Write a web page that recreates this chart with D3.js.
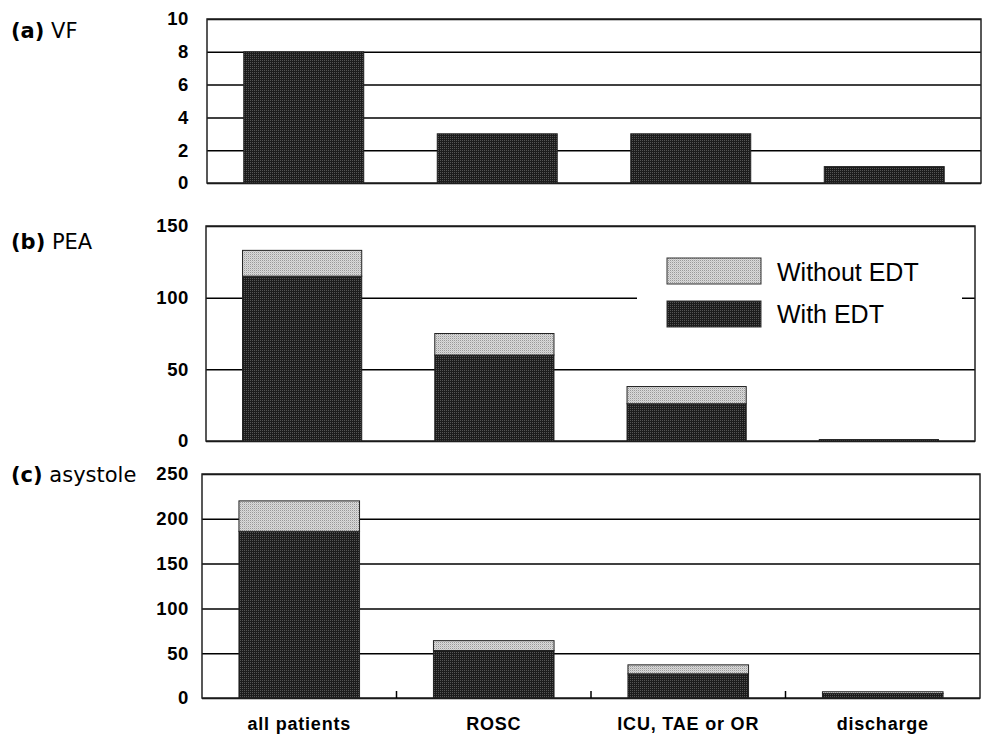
<!DOCTYPE html>
<html>
<head>
<meta charset="utf-8">
<script src="https://cdn.jsdelivr.net/npm/d3@7"></script>
<style>
  body { margin: 0; background: #fff; }
  svg { display: block; }
</style>
</head>
<body>
<div id="chart"></div>
<script>
// data
var categories = ["all patients", "ROSC", "ICU, TAE or OR", "discharge"];
var seriesNames = ["With EDT", "Without EDT"];
var panelTags = ["(a)", "(b)", "(c)"];
var panelTitles = ["VF", "PEA", "asystole"];

var vfWith = [8, 3, 3, 1],
    vfWithout = [0, 0, 0, 0];
var peaWith = [115, 60, 26, 1],
    peaWithout = [18, 15, 12, 0];
var asysWith = [186, 53, 27, 5],
    asysWithout = [34, 11, 10, 2];

var vfTicks = [0, 2, 4, 6, 8, 10],
    peaTicks = [0, 50, 100, 150],
    asysTicks = [0, 50, 100, 150, 200, 250];

// layout (pixels)
var layout = [
  {left: 207, right: 981, top: 19, bottom: 183, labelY: 38},
  {left: 206, right: 975, top: 226, bottom: 441, labelY: 249},
  {left: 202, right: 980, top: 474, bottom: 698, labelY: 482}
];
var panelData = [
  {with: vfWith, without: vfWithout, ticks: vfTicks},
  {with: peaWith, without: peaWithout, ticks: peaTicks},
  {with: asysWith, without: asysWithout, ticks: asysTicks}
];

var width = 982, height = 734;

var svg = d3.select("#chart").append("svg")
    .attr("width", width)
    .attr("height", height);

// dithered fills like the original
var defs = svg.append("defs");
var dark = defs.append("pattern")
    .attr("id", "darkFill")
    .attr("patternUnits", "userSpaceOnUse")
    .attr("width", 2).attr("height", 2);
dark.append("rect").attr("width", 2).attr("height", 2).attr("fill", "#1c1c1c");
dark.append("rect").attr("width", 1).attr("height", 1).attr("fill", "#555");

var light = defs.append("pattern")
    .attr("id", "lightFill")
    .attr("patternUnits", "userSpaceOnUse")
    .attr("width", 2).attr("height", 2);
light.append("rect").attr("width", 2).attr("height", 2).attr("fill", "#dadada");
light.append("rect").attr("width", 1).attr("height", 1).attr("fill", "#999");
light.append("rect").attr("x", 1).attr("y", 1).attr("width", 1).attr("height", 1).attr("fill", "#c4c4c4");

var fills = {"With EDT": "url(#darkFill)", "Without EDT": "url(#lightFill)"};

layout.forEach(function(L, i) {
  var d = panelData[i];
  var rows = categories.map(function(c, j) {
    return {cat: c, "With EDT": d.with[j], "Without EDT": d.without[j]};
  });

  var x = d3.scaleBand()
      .domain(categories)
      .range([L.left, L.right])
      .paddingInner(0.38)
      .paddingOuter(0.19);

  var y = d3.scaleLinear()
      .domain([0, d3.max(d.ticks)])
      .range([L.bottom, L.top]);

  var g = svg.append("g");

  // gridlines
  g.append("g")
      .attr("transform", "translate(" + L.left + ",0)")
      .call(d3.axisLeft(y).tickValues(d.ticks).tickSize(-(L.right - L.left)).tickFormat(""))
      .call(function(a) {
        a.select(".domain").remove();
        a.selectAll(".tick line").attr("stroke", "#000").attr("stroke-width", 1.5);
      });

  // frame
  g.append("rect")
      .attr("x", L.left).attr("y", L.top)
      .attr("width", L.right - L.left).attr("height", L.bottom - L.top)
      .attr("fill", "none")
      .attr("stroke", "#222")
      .attr("stroke-width", 1.5);

  // y labels
  g.append("g")
      .attr("transform", "translate(" + L.left + ",0)")
      .call(d3.axisLeft(y).tickValues(d.ticks).tickSize(0).tickPadding(L.left - 189))
      .call(function(a) {
        a.select(".domain").remove();
        a.selectAll("text")
          .attr("fill", "#000")
          .style("font-family", "'Liberation Sans', Arial, sans-serif")
          .style("font-weight", "bold")
          .style("font-size", "18.5px")
          .style("letter-spacing", "0.6px");
      });

  // legend box in panel (b)
  if (i === 1) {
    var lg = g.append("g");
    lg.append("rect")
        .attr("x", 637).attr("y", 246)
        .attr("width", 325).attr("height", 98)
        .attr("fill", "#fff");
    var order = ["Without EDT", "With EDT"];
    order.forEach(function(name, k) {
      lg.append("rect")
          .attr("x", 667).attr("y", 258 + k * 43)
          .attr("width", 94).attr("height", 26)
          .attr("fill", fills[name])
          .attr("stroke", "#333").attr("stroke-width", 1);
      lg.append("text")
          .attr("x", 777).attr("y", 281 + k * 42)
          .style("font-family", "'Liberation Sans', Arial, sans-serif")
          .style("font-size", "25px")
          .text(name);
    });
  }

  // stacked bars
  var stacked = d3.stack().keys(seriesNames)(rows);
  g.selectAll("g.series")
    .data(stacked)
    .enter().append("g")
      .attr("class", "series")
      .attr("fill", function(s) { return fills[s.key]; })
    .selectAll("rect")
    .data(function(s) { return s.filter(function(v) { return v[1] - v[0] > 0; }); })
    .enter().append("rect")
      .attr("x", function(v) { return x(v.data.cat); })
      .attr("width", x.bandwidth())
      .attr("y", function(v) { return y(v[1]); })
      .attr("height", function(v) { return y(v[0]) - y(v[1]); })
      .attr("stroke", "#222")
      .attr("stroke-width", 1);

  // panel label
  var t = svg.append("text")
      .attr("x", 11).attr("y", L.labelY)
      .style("font-family", "'DejaVu Sans', sans-serif")
      .style("font-size", "21px");
  t.append("tspan").style("font-weight", "bold").text(panelTags[i]);
  t.append("tspan").text(" " + panelTitles[i]);

  // category axis only under the last panel
  if (i === layout.length - 1) {
    var step = x.step();
    var bounds = categories.slice(0, -1).map(function(c) {
      return x(c) + x.bandwidth() + (step - x.bandwidth()) / 2;
    });
    g.selectAll("line.sep")
      .data(bounds)
      .enter().append("line")
        .attr("class", "sep")
        .attr("x1", function(b) { return b; })
        .attr("x2", function(b) { return b; })
        .attr("y1", L.bottom)
        .attr("y2", L.bottom - 7)
        .attr("stroke", "#000")
        .attr("stroke-width", 1.5);

    g.append("g")
        .attr("transform", "translate(0," + L.bottom + ")")
        .call(d3.axisBottom(x).tickSize(0).tickPadding(19))
        .call(function(a) {
          a.select(".domain").remove();
          a.selectAll("text")
            .attr("fill", "#000")
            .style("font-family", "'Liberation Sans', Arial, sans-serif")
            .style("font-weight", "bold")
            .style("font-size", "18px")
            .style("letter-spacing", "0.8px");
        });
  }
});
</script>
</body>
</html>
